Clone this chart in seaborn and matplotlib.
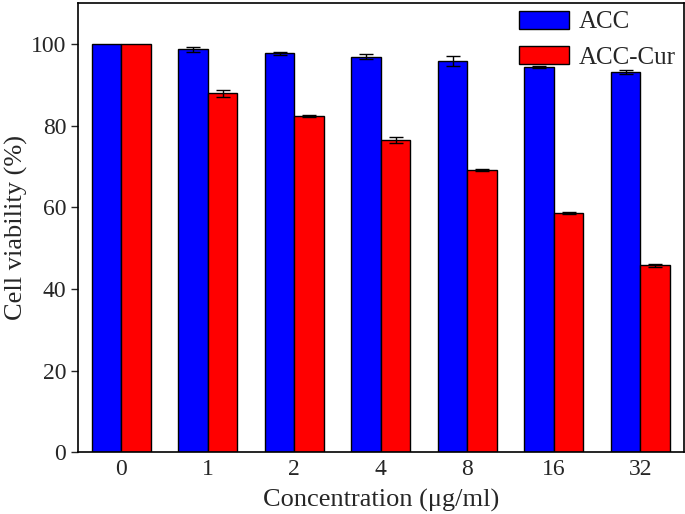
import pandas as pd
import matplotlib.pyplot as plt
import seaborn as sns

# Datos
concentrations = ['0', '1', '2', '4', '8', '16', '32']
acc_values = [100.0, 98.7, 97.7, 96.9, 95.8, 94.4, 93.2]
acc_err = [0.0, 0.6, 0.3, 0.6, 1.3, 0.3, 0.5]
cur_values = [100.0, 87.9, 82.4, 76.5, 69.2, 58.6, 45.8]
cur_err = [0.0, 0.9, 0.3, 0.8, 0.2, 0.2, 0.4]
series = ['ACC', 'ACC-Cur']

df = pd.DataFrame({
    'conc': concentrations * 2,
    'value': acc_values + cur_values,
    'err': acc_err + cur_err,
    'group': [series[0]] * len(concentrations) + [series[1]] * len(concentrations),
})

sns.set_style('ticks')
plt.rcParams['font.family'] = ['Liberation Serif', 'DejaVu Serif']

fig = plt.figure(figsize=(6.85, 5.14), dpi=100)
ax = fig.add_axes([0.114, 0.12, 0.884, 0.874])

sns.barplot(data=df, x='conc', y='value', hue='group', order=concentrations,
            hue_order=series, palette=['#0000FF', '#FF0000'], width=0.68,
            edgecolor='black', linewidth=1, saturation=1, errorbar=None, ax=ax)

# Barras de error encima de cada barra
for container, name in zip(ax.containers, series):
    errs = df.loc[df['group'] == name, 'err'].tolist()
    for bar, e in zip(container, errs):
        if e <= 0:
            continue
        xc = bar.get_x() + bar.get_width() / 2
        ax.errorbar(xc, bar.get_height(), yerr=e, fmt='none', ecolor='black',
                    elinewidth=1, capsize=5, capthick=1)

ax.set_xlim(-0.5, 6.5)
ax.set_ylim(0, 110)
ax.set_yticks([0, 20, 40, 60, 80, 100])
ax.tick_params(axis='y', direction='out', length=5, width=1, labelsize=17)
ax.tick_params(axis='x', length=0, labelsize=17, pad=5)
for s in ax.spines.values():
    s.set_linewidth(1.2)
    s.set_color('black')

ax.set_xlabel('Concentration (μg/ml)', fontsize=19, labelpad=6)
ax.set_ylabel('Cell viability (%)', fontsize=19, labelpad=2)

leg = ax.legend(loc='upper right', frameon=False, fontsize=18,
                handlelength=2.0, handleheight=0.75, borderaxespad=0.05,
                borderpad=0.25, handletextpad=0.4, labelspacing=0.5)

fig.savefig('out.png', dpi=100)
